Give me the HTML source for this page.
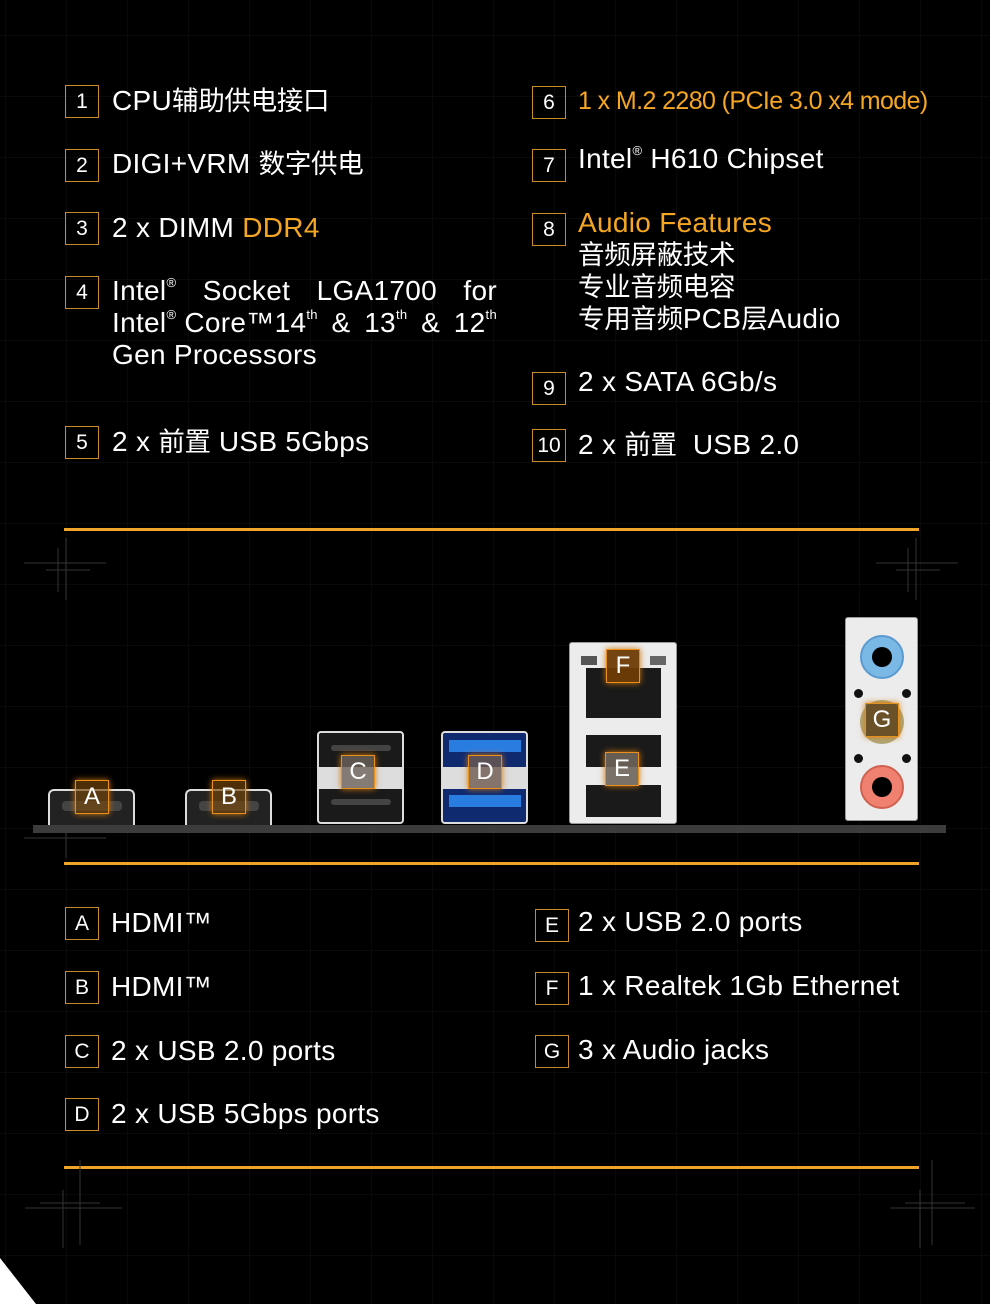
<!DOCTYPE html>
<html><head><meta charset="utf-8">
<style>
*{margin:0;padding:0;box-sizing:border-box}
body{width:990px;height:1304px;background:#000;overflow:hidden;position:relative;font-family:"Liberation Sans","Noto Sans CJK SC",sans-serif;color:#fff}
.grid{position:absolute;inset:0;background-image:linear-gradient(to right,#0a0a0a 1px,transparent 1px),linear-gradient(to bottom,#0a0a0a 1px,transparent 1px);background-size:61px 61px;background-position:5px 35px}
.b{position:absolute;width:34px;height:33px;border:1.5px solid #c98a2a;color:#fff;font-size:21px;text-align:center;line-height:31px}
.t{position:absolute;font-size:28px;letter-spacing:0.3px;line-height:32px;white-space:nowrap}
.c{font-size:26.5px;letter-spacing:-0.3px}
.o{color:#f5a623}
.hl{position:absolute;left:64px;width:855px;height:3px;background:#f0a428}
sup{font-size:13px;vertical-align:top;line-height:16px}
.lab{position:absolute;width:34px;height:34px;border:1.5px solid #e8901a;background:rgba(120,70,10,.65);color:#fff;font-size:24px;text-align:center;line-height:32px;box-shadow:0 0 6px #d07a10}
.port{position:absolute}
</style></head><body>
<div class="grid"></div>

<div class="b" style="left:65px;top:85px">1</div><div class="t" style="left:112px;top:85px">CPU<span class="c">辅助供电接口</span></div>
<div class="b" style="left:65px;top:149px">2</div><div class="t" style="left:112px;top:148px">DIGI+VRM <span class="c">数字供电</span></div>
<div class="b" style="left:65px;top:212px">3</div><div class="t" style="left:112px;top:212px">2 x DIMM <span class="o">DDR4</span></div>
<div class="b" style="left:65px;top:276px">4</div>
<div class="t" style="left:112px;top:275px;width:385px;white-space:normal;line-height:32px">
<div style="display:flex;justify-content:space-between"><span>Intel<sup>®</sup></span><span>Socket</span><span>LGA1700</span><span>for</span></div>
<div style="display:flex;justify-content:space-between"><span>Intel<sup>®</sup> Core™14<sup>th</sup></span><span>&amp;</span><span>13<sup>th</sup></span><span>&amp;</span><span>12<sup>th</sup></span></div>
<div>Gen Processors</div></div>
<div class="b" style="left:65px;top:426px">5</div><div class="t" style="left:112px;top:426px">2 x <span class="c">前置</span> USB 5Gbps</div>

<div class="b" style="left:532px;top:86px">6</div><div class="t o" style="left:578px;top:85px;font-size:25px;letter-spacing:-0.6px">1 x M.2 2280 (PCIe 3.0 x4 mode)</div>
<div class="b" style="left:532px;top:149px">7</div><div class="t" style="left:578px;top:143px">Intel<sup>®</sup> H610 Chipset</div>
<div class="b" style="left:532px;top:213px">8</div>
<div class="t" style="left:578px;top:207px"><span class="o">Audio Features</span><br><span class="c">音频屏蔽技术<br>专业音频电容<br>专用音频</span>PCB<span class="c">层</span>Audio</div>
<div class="b" style="left:532px;top:372px">9</div><div class="t" style="left:578px;top:366px">2 x SATA 6Gb/s</div>
<div class="b" style="left:532px;top:429px">10</div><div class="t" style="left:578px;top:429px">2 x <span class="c">前置</span>&nbsp; USB 2.0</div>

<div class="hl" style="top:528px"></div>
<div class="hl" style="top:862px"></div>
<div class="hl" style="top:1166px"></div>

<svg style="position:absolute;left:0;top:0" width="990" height="1304">
<g stroke="#333" stroke-width="1" fill="none">
<path d="M24 563H106M66 538V600M46 570H90M58 548V592"/>
<path d="M876 563H958M916 538V600M896 570H940M908 548V592"/>
<path d="M25 1208H122M80 1160V1245M40 1203H100M63 1190V1248"/>
<path d="M890 1208H975M932 1160V1245M905 1203H965M920 1190V1248"/>
<path d="M24 838H106M66 820V858"/>
</g>
<polygon points="0,1258 0,1304 36,1304" fill="#fff"/>
</svg>

<div style="position:absolute;left:33px;top:825px;width:913px;height:8px;background:#3c3c3c"></div>

<div class="port" style="left:48px;top:789px;width:87px;height:36px;background:#222;border:2px solid #ddd;border-bottom:none;border-radius:6px 6px 0 0"><div style="position:absolute;left:12px;top:10px;width:60px;height:10px;background:#444;border-radius:4px"></div></div>
<div class="lab" style="left:75px;top:780px">A</div>
<div class="port" style="left:185px;top:789px;width:87px;height:36px;background:#222;border:2px solid #ddd;border-bottom:none;border-radius:6px 6px 0 0"><div style="position:absolute;left:12px;top:10px;width:60px;height:10px;background:#444;border-radius:4px"></div></div>
<div class="lab" style="left:212px;top:780px">B</div>

<div class="port" style="left:317px;top:731px;width:87px;height:93px;background:#1a1a1a;border:2px solid #ddd;border-radius:4px">
<div style="position:absolute;left:0;top:34px;width:83px;height:22px;background:#ddd"></div>
<div style="position:absolute;left:12px;top:12px;width:60px;height:6px;background:#444;border-radius:3px"></div>
<div style="position:absolute;left:12px;top:66px;width:60px;height:6px;background:#444;border-radius:3px"></div></div>
<div class="lab" style="left:341px;top:755px;background:rgba(110,100,90,.8)">C</div>
<div class="port" style="left:441px;top:731px;width:87px;height:93px;background:#102a70;border:2px solid #ddd;border-radius:4px">
<div style="position:absolute;left:6px;top:7px;width:72px;height:12px;background:#2a7de0"></div>
<div style="position:absolute;left:0;top:34px;width:83px;height:22px;background:#ddd"></div>
<div style="position:absolute;left:6px;top:62px;width:72px;height:12px;background:#2a7de0"></div></div>
<div class="lab" style="left:468px;top:755px;background:rgba(110,90,80,.8)">D</div>

<div class="port" style="left:569px;top:642px;width:108px;height:182px;background:#ececec;border:1px solid #999;border-radius:3px">
<div style="position:absolute;left:16px;top:25px;width:75px;height:50px;background:#1a1a1a"></div>
<div style="position:absolute;left:16px;top:92px;width:75px;height:32px;background:#1a1a1a"></div>
<div style="position:absolute;left:16px;top:142px;width:75px;height:32px;background:#1a1a1a"></div>
<div style="position:absolute;left:11px;top:13px;width:16px;height:9px;background:#555"></div>
<div style="position:absolute;left:80px;top:13px;width:16px;height:9px;background:#666"></div></div>
<div class="lab" style="left:606px;top:649px;background:rgba(110,60,5,.95)">F</div>
<div class="lab" style="left:605px;top:752px;background:rgba(110,100,90,.9)">E</div>

<div class="port" style="left:845px;top:617px;width:73px;height:204px;background:#ececec;border:1px solid #999;border-radius:3px">
<div style="position:absolute;left:14px;top:17px;width:44px;height:44px;border-radius:50%;background:#7ab8e6;border:2px solid #5a9ad0"><div style="position:absolute;left:10px;top:10px;width:20px;height:20px;border-radius:50%;background:#000"></div></div>
<div style="position:absolute;left:14px;top:82px;width:44px;height:44px;border-radius:50%;background:#b0a678"></div>
<div style="position:absolute;left:14px;top:147px;width:44px;height:44px;border-radius:50%;background:#f08070;border:2px solid #d06050"><div style="position:absolute;left:10px;top:10px;width:20px;height:20px;border-radius:50%;background:#000"></div></div>
<div style="position:absolute;left:8px;top:71px;width:9px;height:9px;border-radius:50%;background:#111"></div>
<div style="position:absolute;left:56px;top:71px;width:9px;height:9px;border-radius:50%;background:#111"></div>
<div style="position:absolute;left:8px;top:136px;width:9px;height:9px;border-radius:50%;background:#111"></div>
<div style="position:absolute;left:56px;top:136px;width:9px;height:9px;border-radius:50%;background:#111"></div></div>
<div class="lab" style="left:865px;top:703px;background:rgba(90,60,20,.8)">G</div>

<div class="b" style="left:65px;top:907px">A</div><div class="t" style="left:111px;top:907px">HDMI™</div>
<div class="b" style="left:65px;top:971px">B</div><div class="t" style="left:111px;top:971px">HDMI™</div>
<div class="b" style="left:65px;top:1035px">C</div><div class="t" style="left:111px;top:1035px">2 x USB 2.0 ports</div>
<div class="b" style="left:65px;top:1098px">D</div><div class="t" style="left:111px;top:1098px">2 x USB 5Gbps ports</div>
<div class="b" style="left:535px;top:909px">E</div><div class="t" style="left:578px;top:906px">2 x USB 2.0 ports</div>
<div class="b" style="left:535px;top:972px">F</div><div class="t" style="left:578px;top:970px">1 x Realtek 1Gb Ethernet</div>
<div class="b" style="left:535px;top:1035px">G</div><div class="t" style="left:578px;top:1034px">3 x Audio jacks</div>
</body></html>
